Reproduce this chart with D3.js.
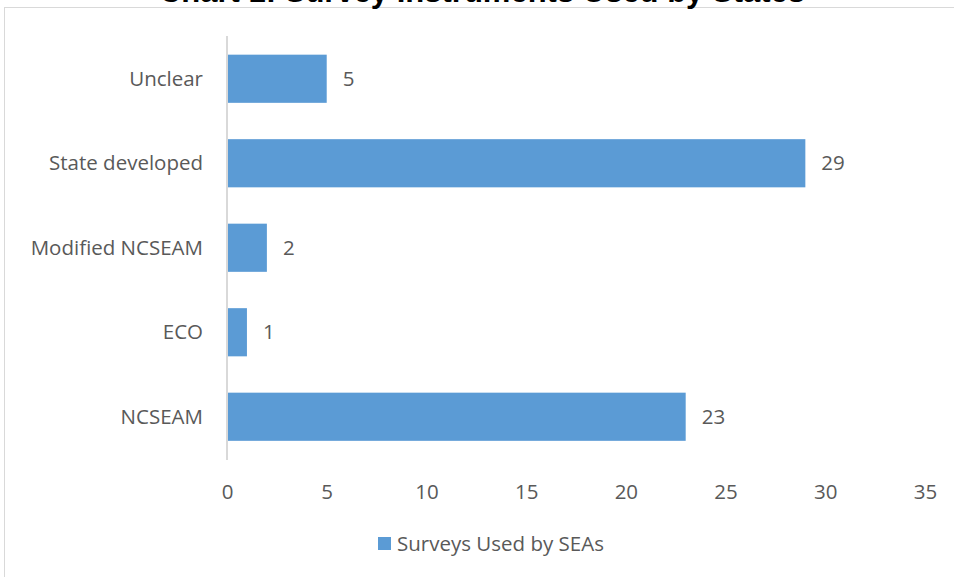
<!DOCTYPE html>
<html><head><meta charset="utf-8">
<script src="https://cdn.jsdelivr.net/npm/d3@7"></script>
<style>html,body{margin:0;padding:0;background:#fff;overflow:hidden}</style>
</head><body><svg id="c" width="954" height="577"></svg>
<script>
const categories = ["Unclear","State developed","Modified NCSEAM","ECO","NCSEAM"];
const values = [5,29,2,1,23];
const xTicks = [0,5,10,15,20,25,30,35];
const seriesName = "Surveys Used by SEAs";
const title = "Chart 1: Survey Instruments Used by States";

const svg = d3.select("#c");
const font = "'Open Sans', sans-serif";
const fs = 20.5;
const textColor = "#595959";
const barColor = "#5b9bd5";

svg.append("rect").attr("x",4.5).attr("y",7.5).attr("width",960).attr("height",600)
  .attr("fill","#fff").attr("stroke","#d9d9d9").attr("stroke-width",1);

svg.append("text").attr("x",482).attr("y",1.5).attr("text-anchor","middle")
  .attr("font-family","Liberation Sans, Arial, sans-serif").attr("font-weight","bold")
  .attr("font-size",31).attr("fill","#000").text(title);

const x = d3.scaleLinear().domain([0,35]).range([227,925]);
const y = d3.scaleBand().domain(categories).range([36.5,459]).paddingInner(0.43).paddingOuter(0.215);

svg.append("line").attr("x1",227).attr("x2",227).attr("y1",36).attr("y2",460)
  .attr("stroke","#d9d9d9").attr("stroke-width",2);

svg.selectAll("rect.bar").data(categories).enter().append("rect").attr("class","bar")
  .attr("x",x(0)+1).attr("y",d=>y(d)).attr("height",y.bandwidth())
  .attr("width",(d,i)=>x(values[i])-x(0)-1).attr("fill",barColor);

svg.selectAll("text.val").data(categories).enter().append("text").attr("class","val")
  .attr("x",(d,i)=>x(values[i])+16).attr("y",d=>y(d)+y.bandwidth()/2).attr("dy","0.35em")
  .attr("font-family",font).attr("font-size",fs).attr("fill",textColor)
  .text((d,i)=>values[i]);

svg.selectAll("text.cat").data(categories).enter().append("text").attr("class","cat")
  .attr("x",203).attr("y",d=>y(d)+y.bandwidth()/2).attr("dy","0.35em").attr("text-anchor","end")
  .attr("font-family",font).attr("font-size",fs).attr("fill",textColor).text(d=>d);

const xAxis = d3.axisBottom(x).tickValues(xTicks).tickSize(0).tickPadding(0);
const gx = svg.append("g").attr("transform","translate(0,484)").call(xAxis);
gx.select(".domain").remove();
gx.selectAll("text").attr("font-family",font).attr("font-size",fs).attr("fill",textColor);

svg.append("rect").attr("x",378).attr("y",537).attr("width",13).attr("height",13).attr("fill",barColor);
svg.append("text").attr("x",397).attr("y",544).attr("dy","0.35em")
  .attr("font-family",font).attr("font-size",fs).attr("fill",textColor).text(seriesName);
</script></body></html>
